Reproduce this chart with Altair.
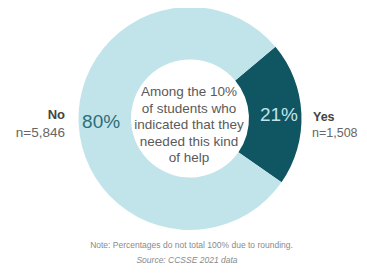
import math
import altair as alt
import pandas as pd

categories = ["Yes", "No"]
percents = [21, 80]
pct_labels = ["21%", "80%"]
counts = ["n=1,508", "n=5,846"]
center_lines = ["Among the 10%", "of students who", "indicated that they", "needed this kind", "of help"]
note = "Note: Percentages do not total 100% due to rounding."
source = "Source: CCSSE 2021 data"

df = pd.DataFrame({"category": categories, "pct": percents, "label": pct_labels,
                   "n": counts, "order": [0, 1]})

FONT = "Liberation Sans"
CX, CY = 182, 110.5
start = math.radians(50)

base = alt.Chart(df).encode(
    theta=alt.Theta("pct:Q", stack=True, scale=alt.Scale(range=[start, start + 2 * math.pi])),
    order=alt.Order("order:Q"),
)

arc = base.mark_arc(innerRadius=59, outerRadius=111.5).encode(
    color=alt.Color("category:N", scale=alt.Scale(domain=["Yes", "No"], range=["#0f5562", "#c1e4ea"]), legend=None),
    x=alt.value(CX), y=alt.value(CY),
)

pct = base.mark_text(radius=89, fontSize=19, font=FONT).encode(
    text="label:N",
    color=alt.condition(alt.datum.category == "Yes", alt.value("#c1e4ea"), alt.value("#2d6e79")),
    x=alt.value(CX), y=alt.value(CY),
)

center = alt.Chart(df).transform_filter(alt.datum.order == 0).mark_text(
    fontSize=13.5, font=FONT, color="#5a5a5a", lineHeight=16.5, baseline="middle"
).encode(text=alt.value(center_lines), x=alt.value(CX - 1), y=alt.value(84))

no_df = df[df.category == "No"]
yes_df = df[df.category == "Yes"]

no_cat = alt.Chart(no_df).mark_text(fontSize=13, font=FONT, fontWeight="bold", color="#444444", align="right").encode(
    text="category:N", x=alt.value(57), y=alt.value(107))
no_n = alt.Chart(no_df).mark_text(fontSize=13.5, font=FONT, color="#666666", align="right").encode(
    text="n:N", x=alt.value(57), y=alt.value(125))
yes_cat = alt.Chart(yes_df).mark_text(fontSize=12.5, font=FONT, fontWeight="bold", color="#444444", align="left").encode(
    text="category:N", x=alt.value(305), y=alt.value(109))
yes_n = alt.Chart(yes_df).mark_text(fontSize=12.5, font=FONT, color="#666666", align="left").encode(
    text="n:N", x=alt.value(304), y=alt.value(125))

note_t = alt.Chart(no_df).mark_text(fontSize=8.5, font=FONT, color="#8a8a8a").encode(
    text=alt.value(note), x=alt.value(183.5), y=alt.value(236.5))
src_t = alt.Chart(no_df).mark_text(fontSize=8.5, font=FONT, fontStyle="italic", color="#8a8a8a").encode(
    text=alt.value(source), x=alt.value(179), y=alt.value(251.5))

chart = alt.layer(arc, pct, center, no_cat, no_n, yes_cat, yes_n, note_t, src_t).properties(
    width=351, height=257, padding=0, autosize=alt.AutoSizeParams(type="none")
).configure_view(stroke=None)

chart.save("out.html", embed_options={"renderer": "svg", "actions": False})
